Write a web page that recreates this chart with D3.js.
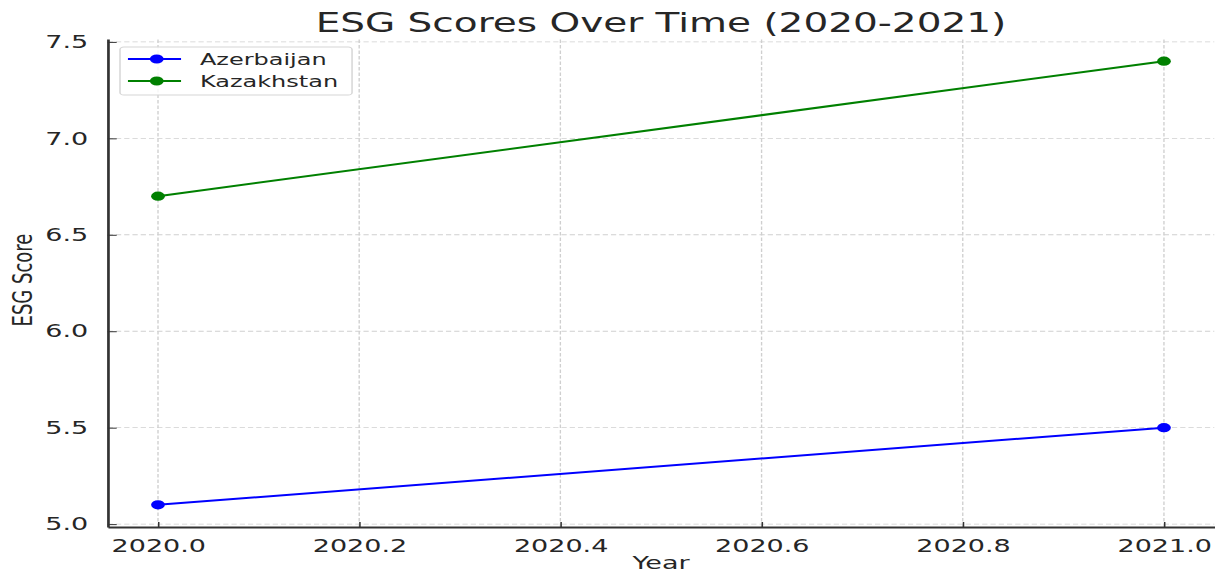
<!DOCTYPE html>
<html>
<head>
<meta charset="utf-8">
<script src="https://cdn.jsdelivr.net/npm/d3@7"></script>
<style>
  html, body { margin: 0; padding: 0; background: #fff; }
  svg { display: block; }
  text { font-family: "DejaVu Sans", sans-serif; fill: #262626; }
</style>
</head>
<body>
<div id="chart"></div>
<script>
// data
let years = [2020, 2021];
let azerbaijan = [5.1, 5.5];
let kazakhstan = [6.7, 7.4];
let seriesNames = ["Azerbaijan", "Kazakhstan"];
let seriesColors = ["#0000ff", "#008000"];
let xTicks = [2020.0, 2020.2, 2020.4, 2020.6, 2020.8, 2021.0];
let yTicks = [5.0, 5.5, 6.0, 6.5, 7.0, 7.5];

// the picture is stretched horizontally, so draw narrow and stretch
let outW = 1222, outH = 574;
let stretch = 1.5;
let width = outW / stretch;
let height = outH;

let margin = {left: 71.8, right: width - 809.5, top: 39, bottom: outH - 527};

let svg = d3.select("#chart").append("svg")
    .attr("width", outW)
    .attr("height", outH)
    .attr("viewBox", [0, 0, width, height])
    .attr("preserveAspectRatio", "none");

let allX = d3.extent(years);
let allY = d3.extent(azerbaijan.concat(kazakhstan));
let padX = (allX[1] - allX[0]) * 0.05;
let padY = (allY[1] - allY[0]) * 0.05;

let x = d3.scaleLinear()
    .domain([allX[0] - padX, allX[1] + padX])
    .range([margin.left, width - margin.right]);

let y = d3.scaleLinear()
    .domain([allY[0] - padY, allY[1] + padY])
    .range([height - margin.bottom, margin.top]);

// grid
let grid = svg.append("g")
    .attr("stroke", "#cfcfcf")
    .attr("stroke-width", 0.9)
    .attr("stroke-dasharray", "3.5,2");

grid.selectAll("line.gx")
    .data(xTicks)
    .join("line")
    .attr("class", "gx")
    .attr("x1", d => x(d)).attr("x2", d => x(d))
    .attr("y1", y.range()[0]).attr("y2", y.range()[1]);

grid.selectAll("line.gy")
    .data(yTicks)
    .join("line")
    .attr("class", "gy")
    .attr("x1", x.range()[0]).attr("x2", x.range()[1])
    .attr("y1", d => y(d)).attr("y2", d => y(d));

// axes (ticks pointing inward, only left & bottom spines)
let xAxis = svg.append("g")
    .attr("transform", `translate(0,${y.range()[0]})`)
    .call(d3.axisBottom(x).tickValues(xTicks).tickFormat(d3.format(".1f"))
        .tickSizeInner(-5).tickSizeOuter(0).tickPadding(12));

let yAxis = svg.append("g")
    .attr("transform", `translate(${x.range()[0]},0)`)
    .call(d3.axisLeft(y).tickValues(yTicks).tickFormat(d3.format(".1f"))
        .tickSizeInner(-6).tickSizeOuter(0).tickPadding(13));

[xAxis, yAxis].forEach(ax => {
    ax.select(".domain").attr("stroke", "#333").attr("stroke-width", 1.8);
    ax.selectAll(".tick line").attr("stroke", "#333").attr("stroke-width", 1);
    ax.selectAll(".tick text")
        .attr("font-family", "DejaVu Sans, sans-serif")
        .attr("font-size", 18)
        .attr("fill", "#262626");
});

// lines
let seriesData = [azerbaijan, kazakhstan];
let line = d3.line()
    .x((d, i) => x(years[i]))
    .y(d => y(d));

seriesData.forEach((vals, k) => {
    svg.append("path")
        .datum(vals)
        .attr("fill", "none")
        .attr("stroke", seriesColors[k])
        .attr("stroke-width", 2)
        .attr("d", line);

    svg.append("g")
        .selectAll("circle")
        .data(vals)
        .join("circle")
        .attr("cx", (d, i) => x(years[i]))
        .attr("cy", d => y(d))
        .attr("r", 4.6)
        .attr("fill", seriesColors[k]);
});

// title and labels
let plotMid = (x.range()[0] + x.range()[1]) / 2;

svg.append("text")
    .attr("x", plotMid)
    .attr("y", 32)
    .attr("text-anchor", "middle")
    .attr("font-size", 26)
    .attr("fill", "#333")
    .text("ESG Scores Over Time (2020-2021)");

svg.append("text")
    .attr("x", plotMid)
    .attr("y", 569)
    .attr("text-anchor", "middle")
    .attr("font-size", 18)
    .text("Year");

svg.append("text")
    .attr("transform", `translate(21,280) rotate(-90)`)
    .attr("text-anchor", "middle")
    .attr("font-size", 18)
    .text("ESG Score");

// legend
let legend = svg.append("g");

legend.append("rect")
    .attr("x", 80)
    .attr("y", 47)
    .attr("width", 154.7)
    .attr("height", 48)
    .attr("rx", 2.5)
    .attr("fill", "#fff")
    .attr("fill-opacity", 0.8)
    .attr("stroke", "#d6d6d6")
    .attr("stroke-width", 1);

let item = legend.selectAll("g.item")
    .data(seriesNames)
    .join("g")
    .attr("class", "item")
    .attr("transform", (d, i) => `translate(0,${59 + i * 22})`);

item.append("line")
    .attr("x1", 85.3).attr("x2", 120.7)
    .attr("stroke", (d, i) => seriesColors[i])
    .attr("stroke-width", 2);

item.append("circle")
    .attr("cx", 104.5)
    .attr("r", 4.6)
    .attr("fill", (d, i) => seriesColors[i]);

item.append("text")
    .attr("x", 133.3)
    .attr("dy", "0.36em")
    .attr("font-size", 16)
    .text(d => d);
</script>
</body>
</html>
